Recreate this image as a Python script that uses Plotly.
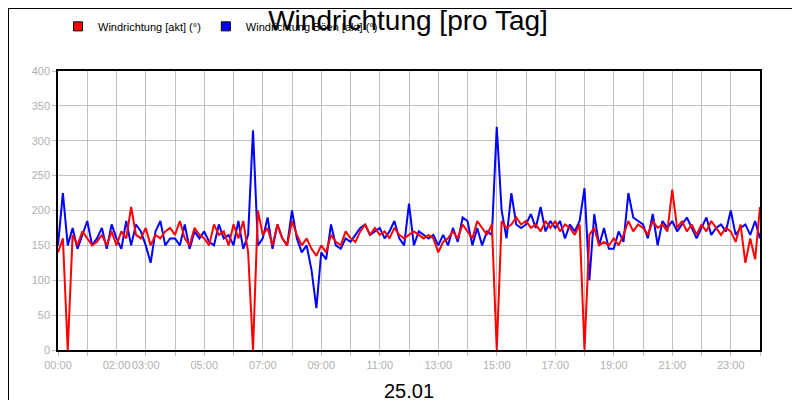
import plotly.graph_objects as go

# 10-minute steps, 00:00 .. 24:00
red = [140,160,0,165,150,170, 160,150,155,165,150,170, 150,170,160,205,165,160,
       175,150,165,160,170,175, 165,185,160,150,175,165, 160,150,180,165,170,150,
       180,160,185,140,0,200, 165,175,150,180,160,150, 185,165,150,160,145,135,
       150,140,165,155,150,170, 160,155,170,180,165,175, 165,170,160,175,165,160,
       165,170,165,160,165,160, 140,155,160,170,160,180, 170,160,185,175,165,180,
       0,185,175,180,190,180, 185,175,180,170,185,175, 185,170,180,175,165,180,
       0,165,175,150,155,150, 160,150,165,185,170,180, 175,165,185,175,180,170,
       230,175,185,170,180,165, 180,170,185,175,165,175, 170,155,180,125,160,130,205]
blue = [150,225,150,175,145,165, 185,150,160,175,145,180, 160,145,185,150,180,170,
        150,125,170,185,150,160, 160,150,180,145,170,160, 170,155,150,180,160,165,
        150,185,145,165,315,150, 160,190,145,180,160,150, 200,160,140,150,115,60,
        140,130,180,150,145,160, 155,165,175,180,165,170, 175,160,170,185,160,150,
        210,150,170,165,160,165, 150,165,150,175,155,190, 185,150,175,150,170,165,
        320,200,160,225,180,175, 180,195,175,205,170,185, 175,185,160,180,170,185,
        232,100,195,150,175,145, 145,170,155,225,190,185, 180,160,195,150,185,175,
        185,170,180,190,175,160, 175,190,165,175,180,170, 200,165,175,180,165,185,160]
hours = [i / 6 for i in range(len(red))]
tick_labels = {0: '00:00', 2: '02:00', 3: '03:00', 5: '05:00', 7: '07:00', 9: '09:00',
               11: '11:00', 13: '13:00', 15: '15:00', 17: '17:00', 19: '19:00',
               21: '21:00', 23: '23:00'}

fig = go.Figure()
fig.add_trace(go.Scatter(x=hours, y=blue, mode='lines', showlegend=False,
                         line=dict(color='#0000ff', width=2)))
fig.add_trace(go.Scatter(x=hours, y=red, mode='lines', showlegend=False,
                         line=dict(color='#ff0000', width=2)))
# legend entries as coloured squares
for name, col in [('Windrichtung [akt] (°)', '#ff0000'), ('Windrichtung Böen [akt] (°)', '#0000ff')]:
    fig.add_trace(go.Scatter(x=[None], y=[None], mode='markers', name=name,
                             marker=dict(symbol='square', size=9, color=col,
                                         line=dict(color='black', width=1))))

fig.update_layout(
    width=800, height=400,
    margin=dict(l=50, r=48, t=63, b=58, autoexpand=False),
    paper_bgcolor='white', plot_bgcolor='white',
    font=dict(family='Liberation Sans, Arial', color='black'),
    title=dict(text='Windrichtung [pro Tag]', x=0.5, xanchor='center', y=0.995, yanchor='top',
               font=dict(size=28)),
    showlegend=True,
    legend=dict(orientation='h', x=0.0, y=1.16, xanchor='left', yanchor='middle',
                font=dict(size=11), itemwidth=30, tracegroupgap=0),
    xaxis=dict(range=[0, 24], tickvals=list(range(25)),
               ticktext=[tick_labels.get(h, '') for h in range(25)], tickangle=0,
               showgrid=True, gridcolor='#c0c0c0', ticks='outside', ticklen=4,
               tickcolor='#c0c0c0', tickfont=dict(size=11, color='#b0b0b0'),
               showline=True, linecolor='black', linewidth=1.5, mirror=True, zeroline=False,
               title=dict(text='25.01', font=dict(size=20), standoff=14)),
    yaxis=dict(range=[0, 400], dtick=50, showgrid=True, gridcolor='#c0c0c0',
               ticks='outside', ticklen=4, tickcolor='#c0c0c0',
               tickfont=dict(size=11, color='#b0b0b0'),
               showline=True, linecolor='black', linewidth=1.5, mirror=True, zeroline=False),
)
fig.add_shape(type='rect', xref='paper', yref='paper', x0=-50/702, x1=749/702,
              y0=-57/279, y1=342/279, line=dict(color='black', width=2))

fig.write_html("out.html")
